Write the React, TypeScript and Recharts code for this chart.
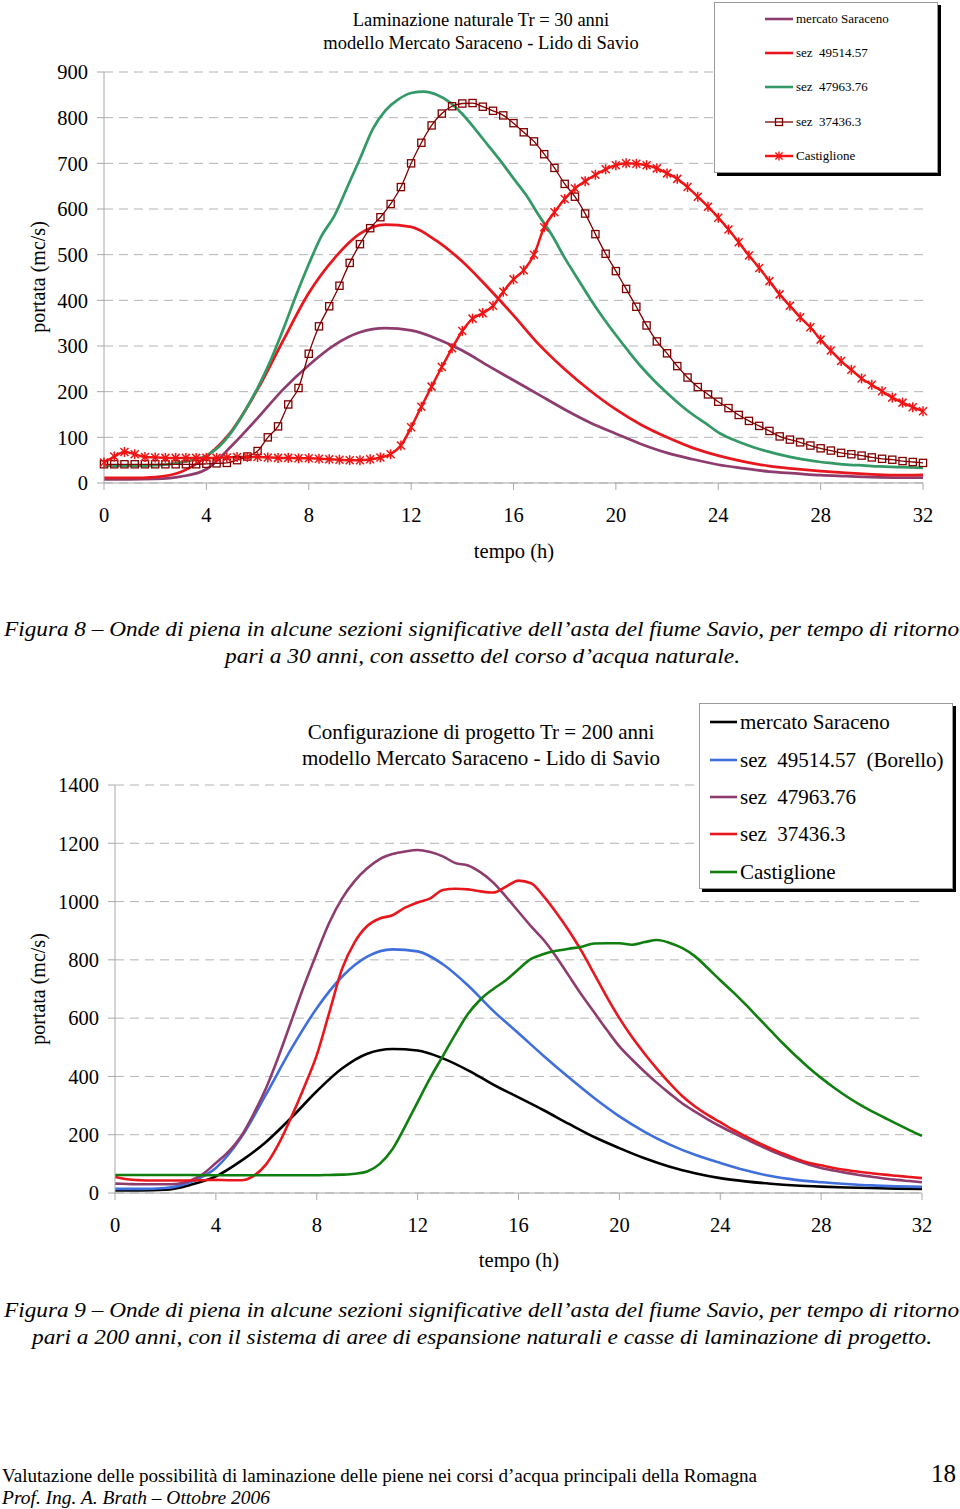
import React from 'react';
import { LineChart, Line, XAxis, YAxis, CartesianGrid } from 'recharts';

const FONT = '"Liberation Serif", "Times New Roman", Times, serif';

// ---------- time grids (hours) ----------
const HOURS_1 = [0,1,2,3,4,5,6,7,8,9,10,11,12,13,14,15,16,17,18,19,20,21,22,23,24,25,26,27,28,29,30,31,32];
const HOURS_05 = [0,0.5,1,1.5,2,2.5,3,3.5,4,4.5,5,5.5,6,6.5,7,7.5,8,8.5,9,9.5,10,10.5,11,11.5,12,12.5,13,13.5,14,14.5,15,15.5,16,16.5,17,17.5,18,18.5,19,19.5,20,20.5,21,21.5,22,22.5,23,23.5,24,24.5,25,25.5,26,26.5,27,27.5,28,28.5,29,29.5,30,30.5,31,31.5,32];
const HOURS_04 = [0,0.4,0.8,1.2,1.6,2,2.4,2.8,3.2,3.6,4,4.4,4.8,5.2,5.6,6,6.4,6.8,7.2,7.6,8,8.4,8.8,9.2,9.6,10,10.4,10.8,11.2,11.6,12,12.4,12.8,13.2,13.6,14,14.4,14.8,15.2,15.6,16,16.4,16.8,17.2,17.6,18,18.4,18.8,19.2,19.6,20,20.4,20.8,21.2,21.6,22,22.4,22.8,23.2,23.6,24,24.4,24.8,25.2,25.6,26,26.4,26.8,27.2,27.6,28,28.4,28.8,29.2,29.6,30,30.4,30.8,31.2,31.6,32];

const X_TICKS = [0,4,8,12,16,20,24,28,32];
const TOP_Y_TICKS = [0,100,200,300,400,500,600,700,800,900];
const BOT_Y_TICKS = [0,200,400,600,800,1000,1200,1400];

// ---------- Figura 8: Tr = 30 anni ----------
const top_mercatoSaraceno = [8,8,9,14,30,82,142,205,258,302,330,339,334,316,290,257,225,193,161,132,108,85,66,52,40,32,25,21,17,15,13,12,12];
const top_sez49514 = [11,11,13,24,58,115,205,312,416,492,546,566,561,530,485,428,367,303,249,202,161,127,100,77,60,47,37,31,26,22,19,17,18];
const top_sez47963 = [38,38,38,38,39,41,45,51,60,80,113,157,208,267,336,410,479,541,585,647,710,775,816,840,854,857,850,834,808,775,740,705,667,630,585,543,493,448,403,362,324,288,254,224,197,172,150,131,111,97,86,76,68,61,55,50,46,43,40,39,37,36,35,34,33];
const top_sez37436 = [41,41,41,41,41,41,41,41,41,41,42,43,44,50,58,70,100,124,172,208,283,343,387,432,482,523,558,582,611,648,700,745,783,809,825,831,832,824,815,805,788,768,748,720,690,655,627,590,545,502,464,425,386,345,310,284,256,231,210,194,178,164,149,136,125,114,102,95,89,82,76,71,66,63,60,56,53,51,48,46,44];
const top_castiglione = [45,58,68,63,57,56,55,55,55,55,55,55,56,57,57,57,56,55,55,54,54,53,52,51,50,50,52,56,63,82,122,167,211,254,295,333,360,372,388,419,446,466,500,560,593,622,645,661,675,687,696,700,699,696,689,678,666,648,627,605,581,555,527,498,471,442,413,388,363,341,314,290,267,248,229,215,201,187,176,166,157];

// ---------- Figura 9: Tr = 200 anni ----------
const bot_mercatoSaraceno = [9,9,11,28,57,110,176,259,349,427,478,494,489,462,421,372,328,284,237,192,154,119,90,68,51,40,32,26,22,19,17,15,14];
const bot_sez49514 = [14,14,17,38,86,190,340,496,634,742,811,836,829,785,712,625,548,470,396,326,263,210,166,131,103,78,58,45,37,31,26,23,21];
const bot_sez47963 = [32,31,30,30,30,32,43,66,103,142,195,272,362,472,592,712,823,928,1010,1070,1114,1146,1163,1172,1177,1170,1155,1132,1124,1100,1065,1017,966,915,868,810,745,680,620,560,503,458,416,377,341,307,279,253,229,207,186,165,146,128,112,98,86,77,69,62,56,50,45,41,37];
const bot_sez37436 = [55,47,44,43,43,43,43,44,45,44,44,59,99,170,262,363,473,620,768,860,916,942,953,979,997,1011,1040,1044,1042,1035,1031,1051,1072,1063,1018,962,900,830,752,673,600,535,478,425,376,332,297,268,243,217,195,173,153,135,118,104,95,86,79,73,68,63,59,55,51];
const bot_castiglione = [62,62,62,62,62,62,62,61,61,61,61,61,61,61,61,61,61,62,63,66,74,100,150,228,312,395,470,545,615,665,700,730,768,803,820,831,838,845,856,857,857,852,861,868,858,840,812,772,730,690,647,602,557,512,470,431,395,362,332,305,281,259,237,216,196];

// ---------- colours ----------
const C_PLUM = '#8E3C6E';
const C_RED = '#E8171E';
const C_TEAL = '#339966';
const C_DARKRED = '#800000';
const C_CAST = '#F01414';
const C_BLUE = '#3F6FDD';
const C_GREEN = '#107F10';
const C_AXIS = '#a8a8a8';

const pair = (ts: number[], vs: number[]) => ts.map((t, i) => ({ t, v: vs[i] }));

const SquareDot = (props: any) => {
  const { cx, cy, index } = props;
  if (cx == null || cy == null) return <g key={`sq-${index}`} />;
  return (
    <rect key={`sq-${index}`} x={cx - 3.6} y={cy - 3.6} width={7.2} height={7.2}
      fill="none" stroke={C_DARKRED} strokeWidth={1.3} />
  );
};

const StarDot = (props: any) => {
  const { cx, cy, index } = props;
  if (cx == null || cy == null) return <g key={`st-${index}`} />;
  const s = 4;
  return (
    <g key={`st-${index}`} stroke={C_CAST} strokeWidth={1.5}>
      <line x1={cx - s} y1={cy - s} x2={cx + s} y2={cy + s} />
      <line x1={cx - s} y1={cy + s} x2={cx + s} y2={cy - s} />
      <line x1={cx} y1={cy - s - 1} x2={cx} y2={cy + s + 1} />
    </g>
  );
};

const tickStyle = { fontSize: 20.5, fontFamily: FONT, fill: '#000' };

function TopChart() {
  return (
    <LineChart width={960} height={600} margin={{ top: 72, right: 37, left: 0, bottom: 57 }}>
      <CartesianGrid vertical={false} stroke="#b4b4b4" strokeDasharray="9 6" />
      <XAxis type="number" dataKey="t" domain={[0, 32]} ticks={X_TICKS} interval={0}
        height={60} tickSize={7} tickMargin={17} tick={tickStyle}
        axisLine={{ stroke: C_AXIS }} tickLine={{ stroke: C_AXIS }} allowDuplicatedCategory={false} />
      <YAxis type="number" domain={[0, 900]} ticks={TOP_Y_TICKS} interval={0} width={104}
        tickSize={7} tickMargin={9} tick={tickStyle}
        axisLine={{ stroke: C_AXIS }} tickLine={{ stroke: C_AXIS }} />
      <Line data={pair(HOURS_1, top_mercatoSaraceno)} dataKey="v" type="monotone" stroke={C_PLUM} strokeWidth={2.75} dot={false} activeDot={false} isAnimationActive={false} />
      <Line data={pair(HOURS_1, top_sez49514)} dataKey="v" type="monotone" stroke={C_RED} strokeWidth={2.75} dot={false} activeDot={false} isAnimationActive={false} />
      <Line data={pair(HOURS_05, top_sez47963)} dataKey="v" type="monotone" stroke={C_TEAL} strokeWidth={2.75} dot={false} activeDot={false} isAnimationActive={false} />
      <Line data={pair(HOURS_04, top_sez37436)} dataKey="v" type="monotone" stroke={C_DARKRED} strokeWidth={1.3} dot={SquareDot} activeDot={false} isAnimationActive={false} />
      <Line data={pair(HOURS_04, top_castiglione)} dataKey="v" type="monotone" stroke={C_CAST} strokeWidth={2.5} dot={StarDot} activeDot={false} isAnimationActive={false} />
    </LineChart>
  );
}

function BottomChart() {
  return (
    <LineChart width={960} height={600} margin={{ top: 95, right: 38, left: 0, bottom: 37 }}>
      <CartesianGrid vertical={false} stroke="#b4b4b4" strokeDasharray="9 6" />
      <XAxis type="number" dataKey="t" domain={[0, 32]} ticks={X_TICKS} interval={0}
        height={60} tickSize={7} tickMargin={17} tick={tickStyle}
        axisLine={{ stroke: C_AXIS }} tickLine={{ stroke: C_AXIS }} allowDuplicatedCategory={false} />
      <YAxis type="number" domain={[0, 1400]} ticks={BOT_Y_TICKS} interval={0} width={115}
        tickSize={7} tickMargin={9} tick={tickStyle}
        axisLine={{ stroke: C_AXIS }} tickLine={{ stroke: C_AXIS }} />
      <Line data={pair(HOURS_1, bot_mercatoSaraceno)} dataKey="v" type="monotone" stroke="#000" strokeWidth={2.6} dot={false} activeDot={false} isAnimationActive={false} />
      <Line data={pair(HOURS_1, bot_sez49514)} dataKey="v" type="monotone" stroke={C_BLUE} strokeWidth={2.6} dot={false} activeDot={false} isAnimationActive={false} />
      <Line data={pair(HOURS_05, bot_sez47963)} dataKey="v" type="monotone" stroke={C_PLUM} strokeWidth={2.6} dot={false} activeDot={false} isAnimationActive={false} />
      <Line data={pair(HOURS_05, bot_sez37436)} dataKey="v" type="monotone" stroke={C_RED} strokeWidth={2.6} dot={false} activeDot={false} isAnimationActive={false} />
      <Line data={pair(HOURS_05, bot_castiglione)} dataKey="v" type="monotone" stroke={C_GREEN} strokeWidth={2.6} dot={false} activeDot={false} isAnimationActive={false} />
    </LineChart>
  );
}

type Row = { label: string; color: string; width: number; marker?: 'square' | 'star' };

const TOP_LEGEND: Row[] = [
  { label: 'mercato Saraceno', color: C_PLUM, width: 2.6 },
  { label: 'sez  49514.57', color: C_RED, width: 2.6 },
  { label: 'sez  47963.76', color: C_TEAL, width: 2.6 },
  { label: 'sez  37436.3', color: C_DARKRED, width: 1.3, marker: 'square' },
  { label: 'Castiglione', color: C_CAST, width: 2.5, marker: 'star' },
];

const BOT_LEGEND: Row[] = [
  { label: 'mercato Saraceno', color: '#000', width: 2.6 },
  { label: 'sez  49514.57  (Borello)', color: C_BLUE, width: 2.6 },
  { label: 'sez  47963.76', color: C_PLUM, width: 2.6 },
  { label: 'sez  37436.3', color: C_RED, width: 2.6 },
  { label: 'Castiglione', color: C_GREEN, width: 2.6 },
];

function LegendBox(p: {
  left: number; top: number; w: number; h: number; rows: Row[]; rowY: number[];
  x1: number; x2: number; tx: number; fs: number;
}) {
  return (
    <div style={{
      position: 'absolute', left: p.left, top: p.top, width: p.w, height: p.h,
      border: '1px solid #9a9a9a', background: '#fff', boxShadow: '3px 3px 0 #000',
      boxSizing: 'border-box',
    }}>
      <svg width={p.w} height={p.h} style={{ position: 'absolute', left: -1, top: -1 }}>
        {p.rows.map((r, i) => {
          const cy = p.rowY[i];
          const mx = (p.x1 + p.x2) / 2;
          return (
            <g key={r.label}>
              <line x1={p.x1} y1={cy} x2={p.x2} y2={cy} stroke={r.color} strokeWidth={r.marker === 'square' ? 1.3 : r.width} />
              {r.marker === 'square' && <rect x={mx - 3.5} y={cy - 3.5} width={7} height={7} fill="none" stroke={r.color} strokeWidth={1.3} />}
              {r.marker === 'star' && (
                <g stroke={r.color} strokeWidth={1.4}>
                  <line x1={mx - 3.6} y1={cy - 3.6} x2={mx + 3.6} y2={cy + 3.6} />
                  <line x1={mx - 3.6} y1={cy + 3.6} x2={mx + 3.6} y2={cy - 3.6} />
                  <line x1={mx} y1={cy - 4.6} x2={mx} y2={cy + 4.6} />
                </g>
              )}
              <text x={p.tx} y={cy + p.fs * 0.34} fontFamily={FONT} fontSize={p.fs} fill="#000" style={{ whiteSpace: 'pre' }}>{r.label}</text>
            </g>
          );
        })}
      </svg>
    </div>
  );
}

function Overlay() {
  const t = { fontFamily: FONT, fill: '#000' } as const;
  return (
    <svg width={960} height={1509} style={{ position: 'absolute', left: 0, top: 0, pointerEvents: 'none' }}>
      {/* top chart texts */}
      <text x={481} y={26} textAnchor="middle" fontSize={18.5} {...t}>Laminazione naturale Tr = 30 anni</text>
      <text x={481} y={49} textAnchor="middle" fontSize={18.5} {...t}>modello Mercato Saraceno - Lido di Savio</text>
      <text x={45} y={277} textAnchor="middle" fontSize={20} transform="rotate(-90 45 277)" {...t}>portata (mc/s)</text>
      <text x={514} y={558} textAnchor="middle" fontSize={20.5} {...t}>tempo (h)</text>

      <text x={4} y={636} fontSize={21} fontStyle="italic" textLength={955} lengthAdjust="spacingAndGlyphs" {...t}>Figura 8 – Onde di piena in alcune sezioni significative dell’asta del fiume Savio, per tempo di ritorno</text>
      <text x={225} y={663} fontSize={21} fontStyle="italic" textLength={515} lengthAdjust="spacingAndGlyphs" {...t}>pari a 30 anni, con assetto del corso d’acqua naturale.</text>

      {/* bottom chart texts */}
      <text x={481} y={739} textAnchor="middle" fontSize={21} {...t}>Configurazione di progetto Tr = 200 anni</text>
      <text x={481} y={765} textAnchor="middle" fontSize={21} {...t}>modello Mercato Saraceno - Lido di Savio</text>
      <text x={45} y={989} textAnchor="middle" fontSize={20} transform="rotate(-90 45 989)" {...t}>portata (mc/s)</text>
      <text x={519} y={1267} textAnchor="middle" fontSize={20.5} {...t}>tempo (h)</text>

      <text x={4} y={1317} fontSize={21} fontStyle="italic" textLength={955} lengthAdjust="spacingAndGlyphs" {...t}>Figura 9 – Onde di piena in alcune sezioni significative dell’asta del fiume Savio, per tempo di ritorno</text>
      <text x={32} y={1344} fontSize={21} fontStyle="italic" textLength={900} lengthAdjust="spacingAndGlyphs" {...t}>pari a 200 anni, con il sistema di aree di espansione naturali e casse di laminazione di progetto.</text>

      {/* footer */}
      <text x={2} y={1482} fontSize={19} textLength={755} lengthAdjust="spacingAndGlyphs" {...t}>Valutazione delle possibilità di laminazione delle piene nei corsi d’acqua principali della Romagna</text>
      <text x={956} y={1482} fontSize={25} textAnchor="end" {...t}>18</text>
      <text x={2} y={1504} fontSize={19} fontStyle="italic" textLength={268} lengthAdjust="spacingAndGlyphs" {...t}>Prof. Ing. A. Brath – Ottobre  2006</text>
    </svg>
  );
}

export default function App() {
  return (
    <div style={{ position: 'absolute', left: 0, top: 0, width: 960, height: 1509, background: '#fff', overflow: 'hidden' }}>
      <div style={{ position: 'absolute', left: 0, top: 0 }}>
        <TopChart />
      </div>
      <div style={{ position: 'absolute', left: 0, top: 690 }}>
        <BottomChart />
      </div>
      <LegendBox left={714} top={2} w={224} h={171} rows={TOP_LEGEND} rowY={[17, 51, 85, 120, 154]} x1={51} x2={79} tx={82} fs={13} />
      <LegendBox left={699} top={703} w={254} h={186} rows={BOT_LEGEND} rowY={[19, 57, 94, 131, 169]} x1={11} x2={38} tx={41} fs={21} />
      <Overlay />
    </div>
  );
}
